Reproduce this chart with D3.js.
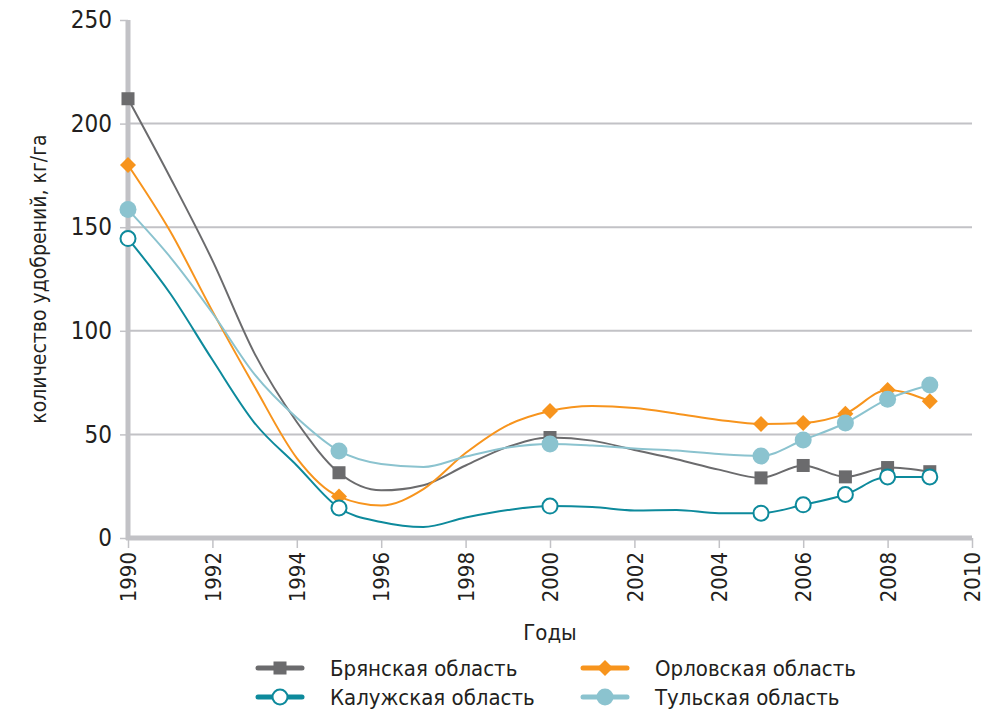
<!DOCTYPE html>
<html>
<head>
<meta charset="utf-8">
<script src="https://cdn.jsdelivr.net/npm/d3@7"></script>
<style>
  html, body { margin: 0; padding: 0; background: #fff; }
  svg { display: block; }
  text { font-family: "Liberation Sans Narrow", "DejaVu Sans Condensed", "Arial Narrow", sans-serif; fill: #231f20; }
</style>
</head>
<body>
<svg id="chart" width="999" height="712"></svg>
<script>
// Fertilizer application, kg per hectare, by region and year
const years = [1990, 1991, 1992, 1993, 1994, 1995, 1996, 1997, 1998, 1999,
               2000, 2001, 2002, 2003, 2004, 2005, 2006, 2007, 2008, 2009];
const markerYears = [1990, 1995, 2000, 2005, 2006, 2007, 2008, 2009];

const bryansk = [212, 174, 134, 89, 56, 31.5, 23, 25.5, 35, 44,
                 48.5, 47, 42.5, 38, 33, 29, 35, 29.5, 34, 32];
const oryol   = [180, 148, 109.5, 73, 38.6, 20, 15.7, 23.6, 41, 54.5,
                 61.3, 63.7, 62.7, 60, 57, 55, 55.5, 60, 71.4, 66];
const kaluga  = [144.5, 118, 86, 55.5, 35, 14.5, 7.7, 5.3, 9.9, 13.5,
                 15.4, 15, 13.3, 13.5, 12, 12, 16, 21, 29.5, 29.5];
const tula    = [158.5, 135.6, 108.6, 79, 58, 42, 35.7, 34.3, 39.3, 43.7,
                 45.4, 44.6, 43.2, 42.2, 40.5, 39.6, 47.3, 55.5, 67, 73.8];

const seriesNames = ["Брянская область", "Орловская область", "Калужская область", "Тульская область"];
const xTicks = [1990, 1992, 1994, 1996, 1998, 2000, 2002, 2004, 2006, 2008, 2010];
const yTicks = [0, 50, 100, 150, 200, 250];
const xTitle = "Годы";
const yTitle = "количество удобрений, кг/га";

const series = [
  { name: seriesNames[0], values: bryansk, color: "#6b6b6d", marker: "square" },
  { name: seriesNames[1], values: oryol,   color: "#f7941d", marker: "diamond" },
  { name: seriesNames[2], values: kaluga,  color: "#0d8a9c", marker: "open" },
  { name: seriesNames[3], values: tula,    color: "#8bc3cf", marker: "circle" }
];

const svg = d3.select("#chart");
const x = d3.scaleLinear().domain([1990, 2010]).range([128, 972]);
const y = d3.scaleLinear().domain([0, 250]).range([538, 20]);
const axisGray = "#c2c2c6";

// horizontal gridlines
svg.append("g")
  .selectAll("line")
  .data(yTicks.filter(t => t > 0 && t < 250))
  .join("line")
  .attr("x1", x(1990)).attr("x2", x(2010))
  .attr("y1", d => y(d)).attr("y2", d => y(d))
  .attr("stroke", axisGray).attr("stroke-width", 2);

// y axis
const yAxis = svg.append("g")
  .attr("transform", `translate(${x(1990)},0)`)
  .call(d3.axisLeft(y).tickValues(yTicks).tickSize(8).tickPadding(8));
yAxis.select(".domain").remove();
yAxis.selectAll(".tick line").attr("stroke", axisGray).attr("stroke-width", 1.5);
yAxis.selectAll(".tick text").style("font-size", "24px").attr("fill", "#231f20");
svg.append("line")
  .attr("x1", x(1990)).attr("x2", x(1990))
  .attr("y1", y(250)).attr("y2", y(0) + 2)
  .attr("stroke", axisGray).attr("stroke-width", 5);

// x axis
const xAxis = svg.append("g")
  .attr("transform", `translate(0,${y(0)})`)
  .call(d3.axisBottom(x).tickValues(xTicks).tickFormat(d3.format("d")).tickSize(10).tickPadding(8));
xAxis.select(".domain").remove();
xAxis.selectAll(".tick line").attr("stroke", axisGray).attr("stroke-width", 1.5);
xAxis.selectAll(".tick text")
  .style("font-size", "22px")
  .attr("fill", "#231f20")
  .attr("text-anchor", "end")
  .attr("dy", "0.35em")
  .attr("transform", "translate(0,10) rotate(-90)")
  .attr("x", -4).attr("y", 0);
svg.append("line")
  .attr("x1", x(1990) - 2).attr("x2", x(2010))
  .attr("y1", y(0)).attr("y2", y(0))
  .attr("stroke", axisGray).attr("stroke-width", 5);

// axis titles
svg.append("text")
  .attr("transform", `translate(46,${(y(0) + y(250)) / 2}) rotate(-90)`)
  .attr("text-anchor", "middle")
  .style("font-size", "21px")
  .text(yTitle);
svg.append("text")
  .attr("x", (x(1990) + x(2010)) / 2).attr("y", 640)
  .attr("text-anchor", "middle")
  .style("font-size", "22px")
  .text(xTitle);

// markers
function drawMarker(g, type, color, cx, cy, scale) {
  const s = scale || 1;
  if (type === "square") {
    g.append("rect").attr("x", cx - 6.5 * s).attr("y", cy - 6.5 * s)
      .attr("width", 13 * s).attr("height", 13 * s).attr("fill", color);
  } else if (type === "diamond") {
    const r = 8 * s;
    g.append("path")
      .attr("d", `M${cx},${cy - r}L${cx + r},${cy}L${cx},${cy + r}L${cx - r},${cy}Z`)
      .attr("fill", color);
  } else if (type === "open") {
    g.append("circle").attr("cx", cx).attr("cy", cy).attr("r", 7.5 * s)
      .attr("fill", "#fff").attr("stroke", color).attr("stroke-width", 2);
  } else {
    g.append("circle").attr("cx", cx).attr("cy", cy).attr("r", 8.5 * s).attr("fill", color);
  }
}

const line = d3.line()
  .x(d => x(d.year))
  .y(d => y(d.value))
  .curve(d3.curveMonotoneX);

const plot = svg.append("g");
series.forEach(s => {
  const pts = years.map((yr, i) => ({ year: yr, value: s.values[i] }));
  plot.append("path")
    .attr("d", line(pts))
    .attr("fill", "none")
    .attr("stroke", s.color)
    .attr("stroke-width", 2);
});
series.forEach(s => {
  const g = plot.append("g");
  years.forEach((yr, i) => {
    if (markerYears.includes(yr)) drawMarker(g, s.marker, s.color, x(yr), y(s.values[i]));
  });
});

// legend
const legendPos = [
  { lx: 258, ly: 668 }, { lx: 583, ly: 668 },
  { lx: 258, ly: 697 }, { lx: 583, ly: 697 }
];
series.forEach((s, i) => {
  const p = legendPos[i];
  const g = svg.append("g");
  g.append("line")
    .attr("x1", p.lx).attr("x2", p.lx + 44)
    .attr("y1", p.ly).attr("y2", p.ly)
    .attr("stroke", s.color).attr("stroke-width", 5).attr("stroke-linecap", "round");
  drawMarker(g, s.marker, s.color, p.lx + 22, p.ly, 1);
  g.append("text")
    .attr("x", p.lx + 72).attr("y", p.ly)
    .attr("dy", "0.35em")
    .style("font-size", "22px")
    .text(s.name);
});
</script>
</body>
</html>
